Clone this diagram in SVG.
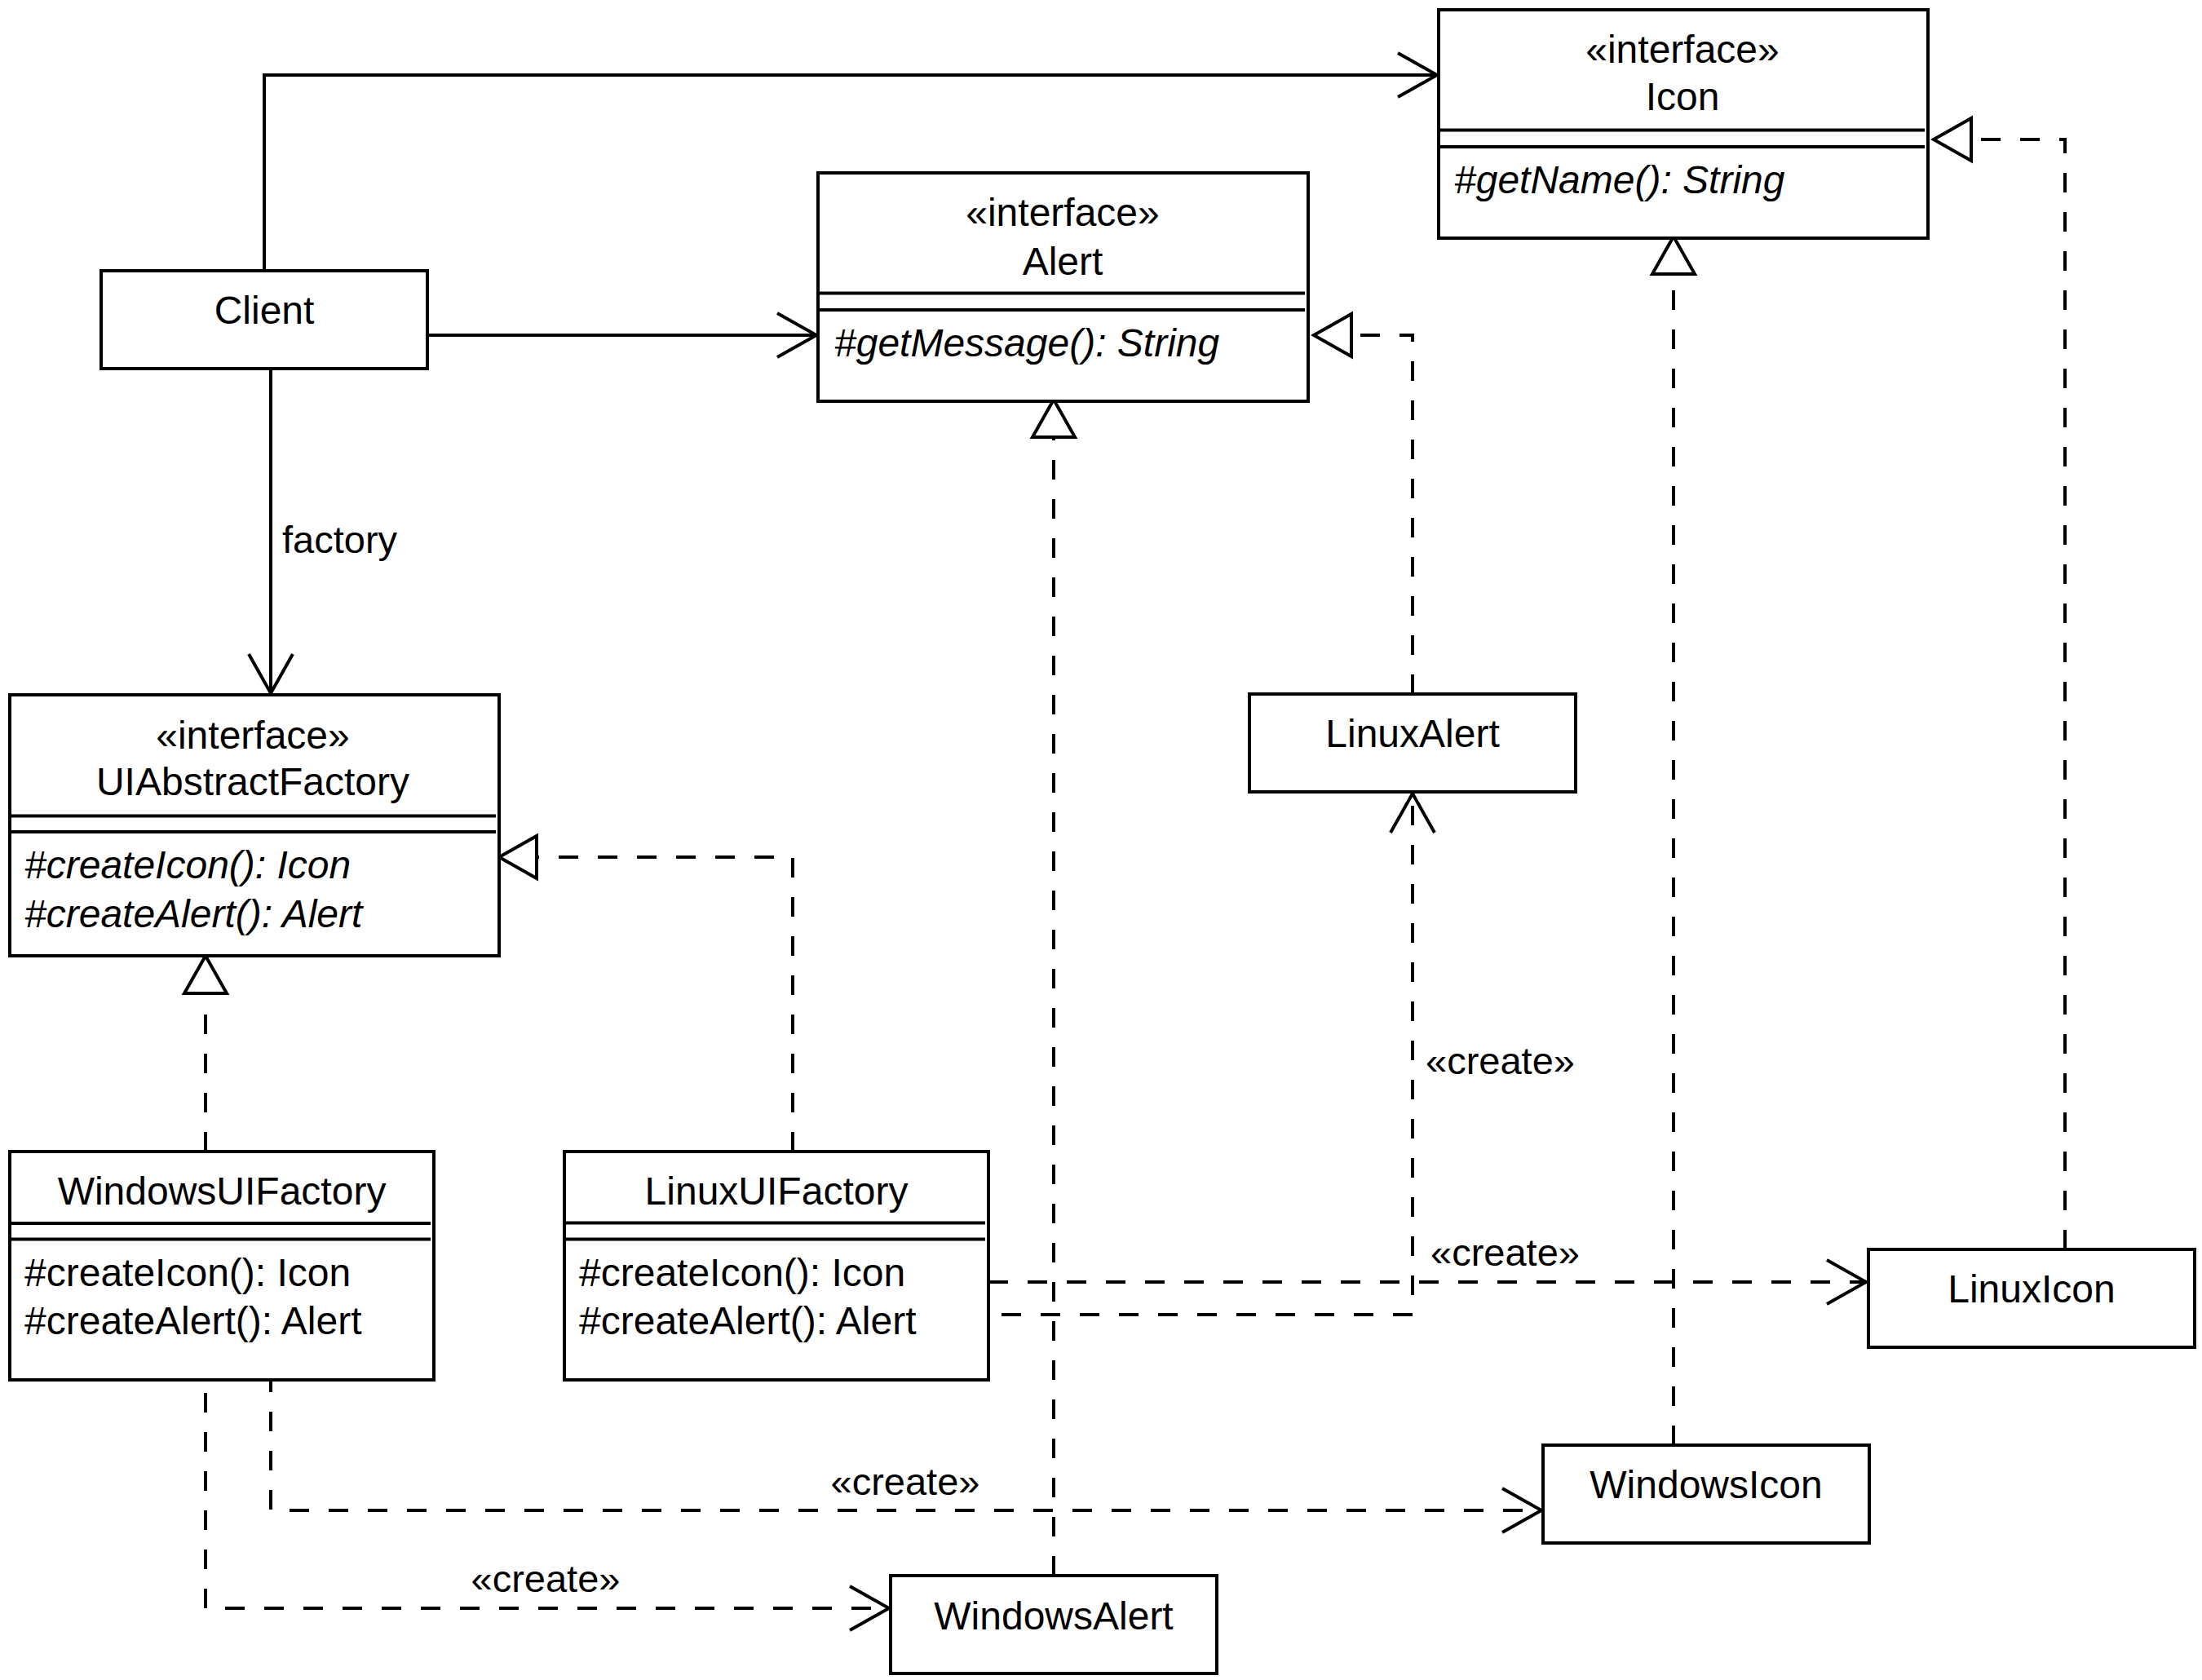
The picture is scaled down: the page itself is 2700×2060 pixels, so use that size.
<svg xmlns="http://www.w3.org/2000/svg" width="2700" height="2060" viewBox="0 0 2700 2060">
<style>
.box{fill:#fff;stroke:#000;stroke-width:4}
.sep{stroke:#000;stroke-width:4;fill:none}
.t{font-family:"Liberation Sans",Arial,Helvetica,sans-serif;font-size:48px;fill:#000}
.l{font-family:"Liberation Sans",Arial,Helvetica,sans-serif;font-size:47px;fill:#000}
.c{text-anchor:middle}
.i{font-style:italic}
.solid{fill:none;stroke:#000;stroke-width:4}
.dash{fill:none;stroke:#000;stroke-width:4;stroke-dasharray:24 24}
.open{marker-end:url(#openArrow)}
.real{marker-end:url(#hollowTri)}
</style>
<defs>
<marker id="openArrow" markerUnits="userSpaceOnUse" orient="auto" refX="0" refY="0" markerWidth="60" markerHeight="60" overflow="visible">
<path d="M-48,-27 L0,0 L-48,27" fill="none" stroke="#000" stroke-width="4" stroke-dasharray="none"/>
</marker>
<marker id="hollowTri" markerUnits="userSpaceOnUse" orient="auto" refX="0" refY="0" markerWidth="60" markerHeight="60" overflow="visible">
<path d="M46,0 L0,-26 L0,26 Z" fill="#fff" stroke="#000" stroke-width="4" stroke-dasharray="none"/>
</marker>
</defs>

<g id="connectors">
<path id="client-icon" class="solid open" d="M324,332 V92 H1762"/>
<path id="client-alert" class="solid open" d="M524,411 H1001"/>
<path id="client-factory" class="solid open" d="M332,452 V850"/>
<text class="l" x="346" y="678">factory</text>

<path id="linuxuif-uiaf" class="dash real" d="M972,1412 V1051 H658"/>
<path id="winuif-uiaf" class="dash real" d="M252,1412 V1218"/>
<path id="linuxalert-alert" class="dash real" d="M1732,851 V411 H1657"/>
<path id="winalert-alert" class="dash real" d="M1292,1932 V536"/>
<path id="winicon-icon" class="dash real" d="M2052,1772 V336"/>
<path id="linuxicon-icon" class="dash real" d="M2532,1532 V171 H2417"/>

<path id="linuxuif-linuxicon" class="dash open" d="M1212,1572 H2288"/>
<text class="l" x="1754" y="1552">«create»</text>
<path id="linuxuif-linuxalert" class="dash open" d="M1228,1612 H1732 V973"/>
<text class="l" x="1748" y="1317">«create»</text>
<path id="winuif-winicon" class="dash open" style="stroke-dashoffset:9" d="M332,1692 V1852 H1890"/>
<text class="l c" x="1110" y="1833">«create»</text>
<path id="winuif-winalert" class="dash open" d="M252,1708 V1972 H1090"/>
<text class="l c" x="669" y="1952">«create»</text>
</g>

<g id="node-icon">
<rect class="box" x="1764" y="12" width="600" height="280"/>
<line class="sep" x1="1764" y1="159.5" x2="2360" y2="159.5"/>
<line class="sep" x1="1764" y1="180" x2="2360" y2="180"/>
<text class="t c" x="2063" y="77">«interface»</text>
<text class="t c" x="2063" y="135">Icon</text>
<text class="t i" x="1783" y="237">#getName(): String</text>
</g>

<g id="node-alert">
<rect class="box" x="1003" y="212" width="601" height="280"/>
<line class="sep" x1="1003" y1="359.5" x2="1600" y2="359.5"/>
<line class="sep" x1="1003" y1="380" x2="1600" y2="380"/>
<text class="t c" x="1303" y="277">«interface»</text>
<text class="t c" x="1303" y="337">Alert</text>
<text class="t i" x="1023" y="437">#getMessage(): String</text>
</g>

<g id="node-client">
<rect class="box" x="124" y="332" width="400" height="120"/>
<text class="t c" x="324" y="397">Client</text>
</g>

<g id="node-uiabstractfactory">
<rect class="box" x="12" y="852" width="600" height="320"/>
<line class="sep" x1="12" y1="1000.5" x2="608" y2="1000.5"/>
<line class="sep" x1="12" y1="1020" x2="608" y2="1020"/>
<text class="t c" x="310" y="918">«interface»</text>
<text class="t c" x="310" y="975">UIAbstractFactory</text>
<text class="t i" x="30" y="1077">#createIcon(): Icon</text>
<text class="t i" x="30" y="1137">#createAlert(): Alert</text>
</g>

<g id="node-windowsuifactory">
<rect class="box" x="12" y="1412" width="520" height="280"/>
<line class="sep" x1="12" y1="1500" x2="528" y2="1500"/>
<line class="sep" x1="12" y1="1519.5" x2="528" y2="1519.5"/>
<text class="t c" x="272" y="1477">WindowsUIFactory</text>
<text class="t" x="30" y="1577">#createIcon(): Icon</text>
<text class="t" x="30" y="1636">#createAlert(): Alert</text>
</g>

<g id="node-linuxuifactory">
<rect class="box" x="692" y="1412" width="520" height="280"/>
<line class="sep" x1="692" y1="1499.5" x2="1208" y2="1499.5"/>
<line class="sep" x1="692" y1="1519.5" x2="1208" y2="1519.5"/>
<text class="t c" x="952" y="1477">LinuxUIFactory</text>
<text class="t" x="710" y="1577">#createIcon(): Icon</text>
<text class="t" x="710" y="1636">#createAlert(): Alert</text>
</g>

<g id="node-linuxalert">
<rect class="box" x="1532" y="851" width="400" height="120"/>
<text class="t c" x="1732" y="916">LinuxAlert</text>
</g>

<g id="node-linuxicon">
<rect class="box" x="2291" y="1532" width="400" height="120"/>
<text class="t c" x="2491" y="1597">LinuxIcon</text>
</g>

<g id="node-windowsicon">
<rect class="box" x="1892" y="1772" width="400" height="120"/>
<text class="t c" x="2092" y="1837">WindowsIcon</text>
</g>

<g id="node-windowsalert">
<rect class="box" x="1092" y="1932" width="400" height="120"/>
<text class="t c" x="1292" y="1998">WindowsAlert</text>
</g>
</svg>
